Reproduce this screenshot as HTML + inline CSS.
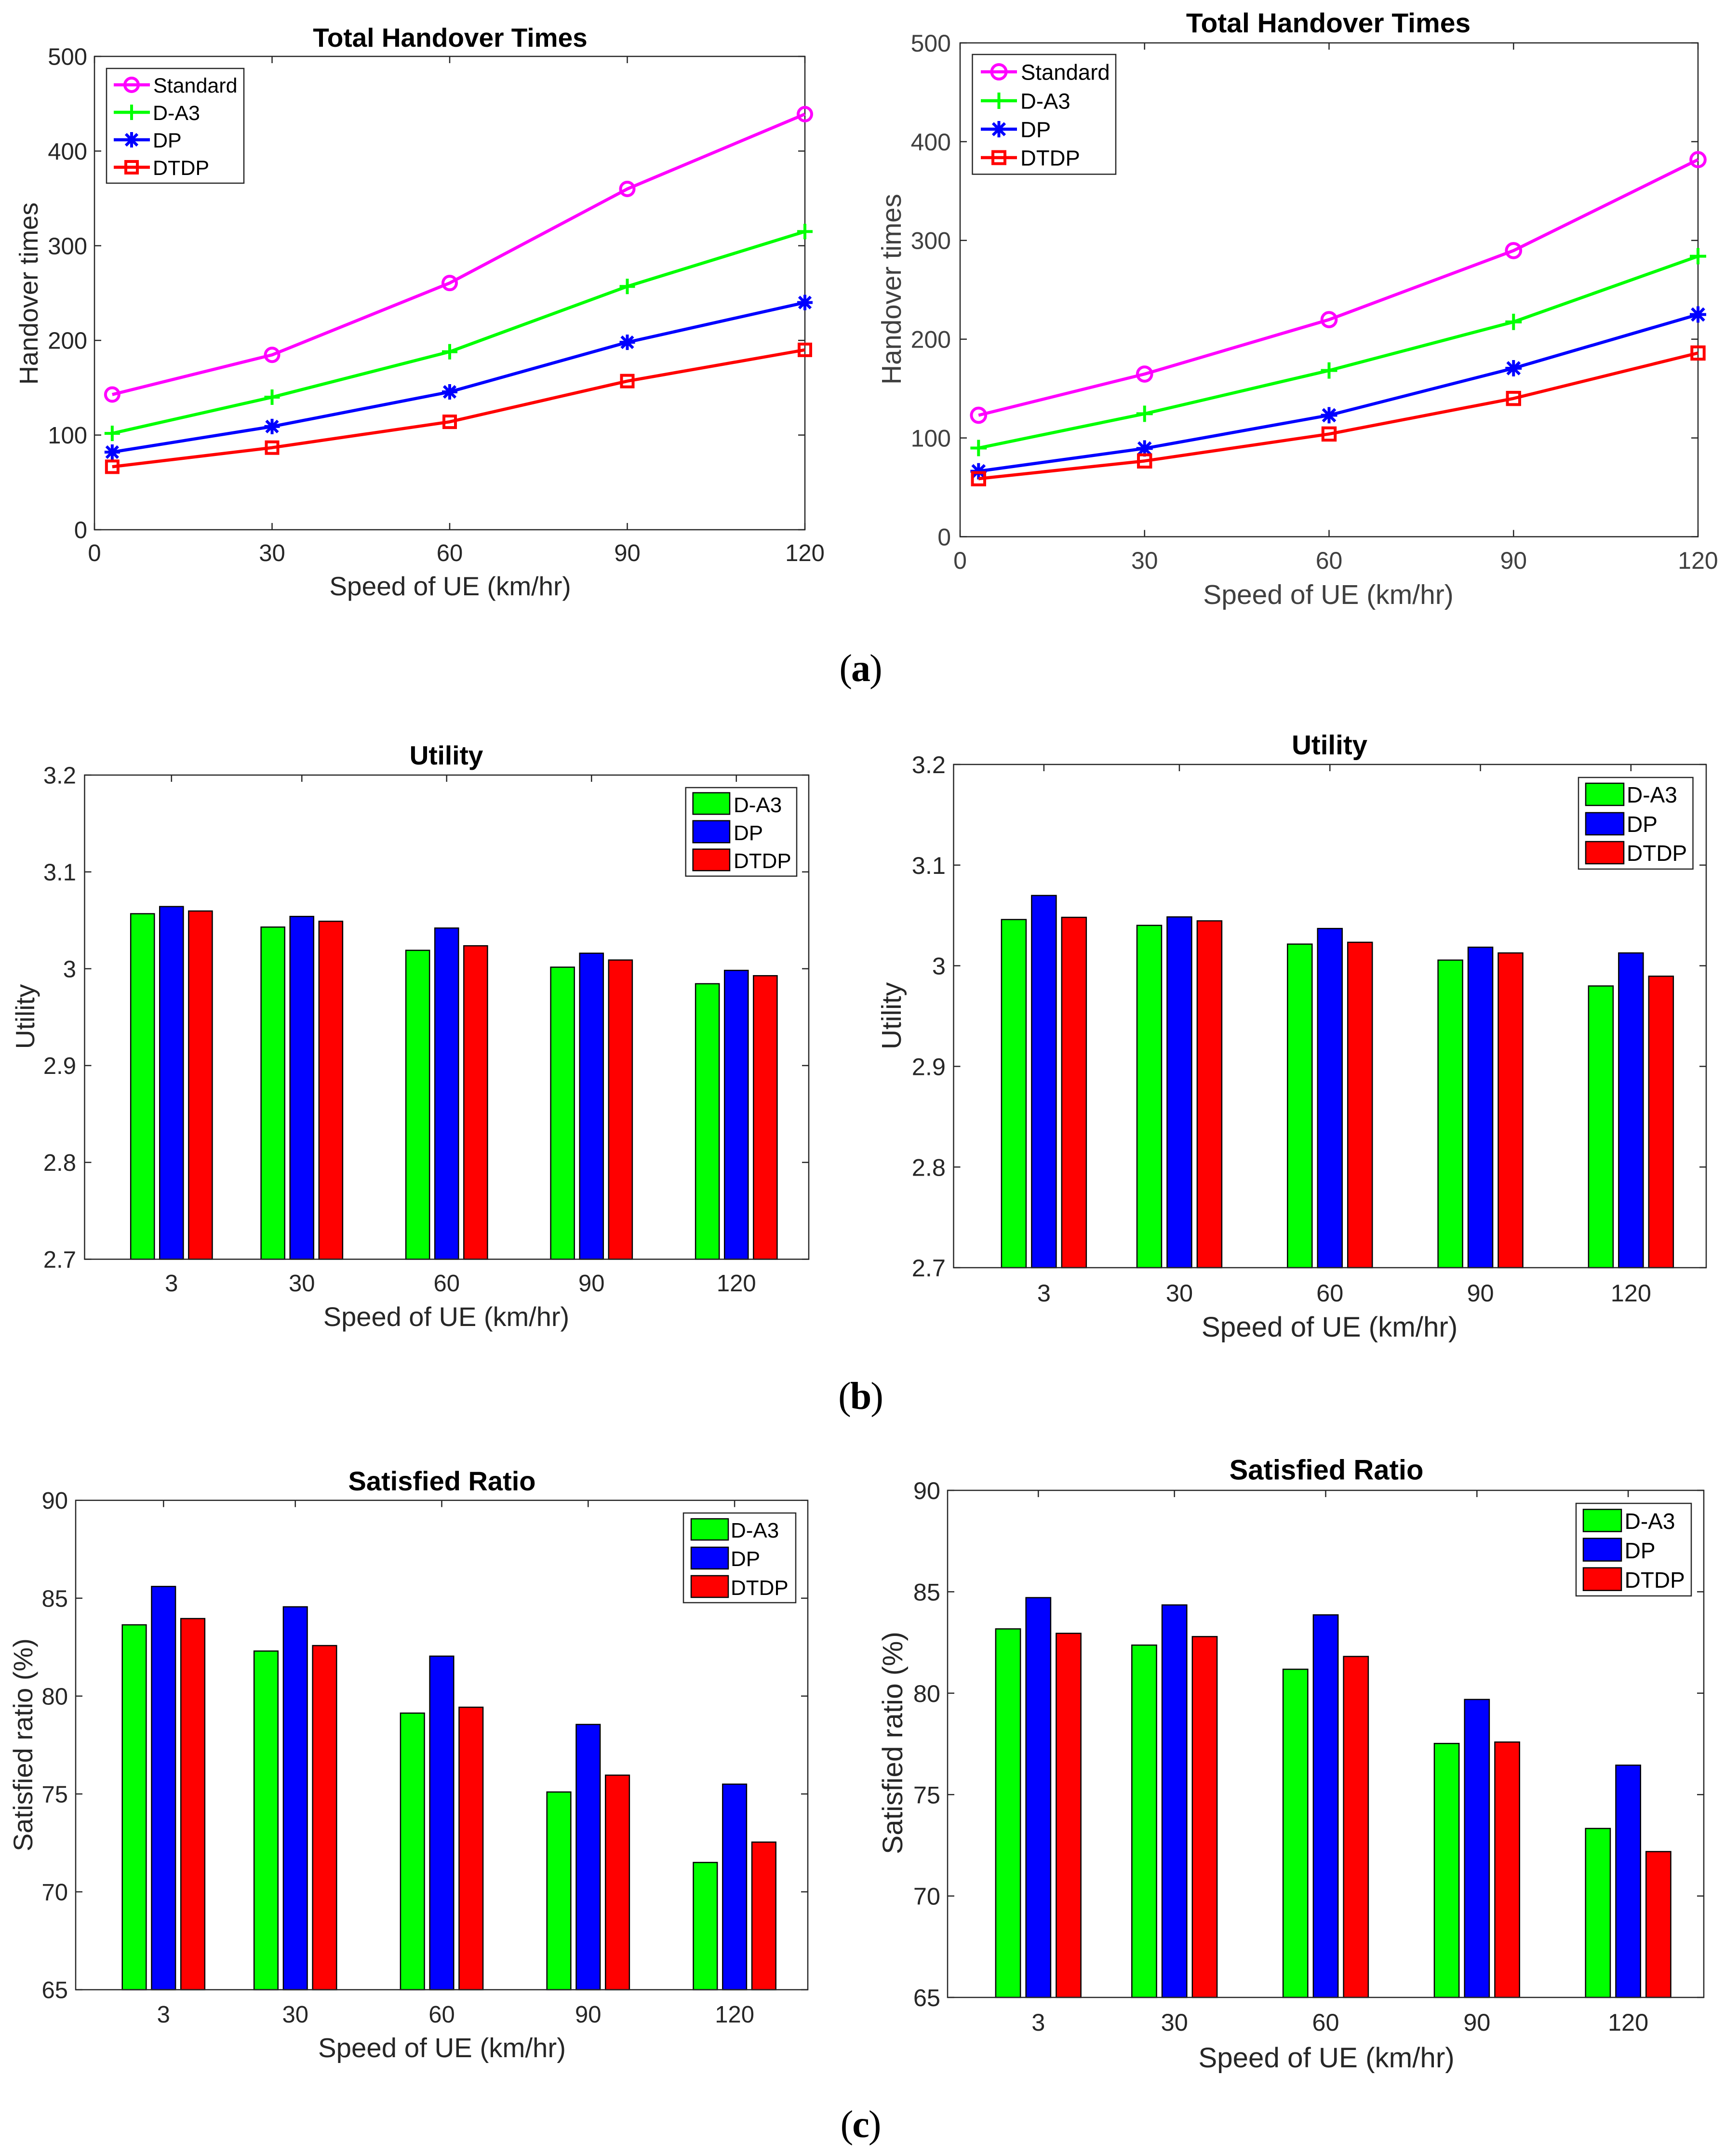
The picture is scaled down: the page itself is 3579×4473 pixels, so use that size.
<!DOCTYPE html>
<html lang="en">
<head>
<meta charset="utf-8">
<title>Handover, utility and satisfied ratio charts</title>
<style>
html,body{margin:0;padding:0;background:#fff;}
svg{display:block;}
text{font-family:"Liberation Sans",Arial,sans-serif;}
.title{font-weight:bold;fill:#000;text-anchor:middle;}
.lab{fill:#262626;text-anchor:middle;}
.lab2{fill:#404040;text-anchor:middle;}
.leg{fill:#000;}
.box{fill:#fff;stroke:#262626;stroke-width:2.5;}
.sw{stroke:#000;stroke-width:2.5;}
.cap{font-family:"Liberation Serif","Times New Roman",serif;font-size:80px;letter-spacing:-2px;fill:#000;text-anchor:middle;}
.mk{fill:none;}
</style>
</head>
<body>
<svg id="figure" xmlns="http://www.w3.org/2000/svg" width="3579" height="4473" viewBox="0 0 3579 4473">
<rect width="3579" height="4473" fill="#fff"/>

<!-- A1 -->
<g id="a1">
  <text class="title" x="934" y="97" font-size="55">Total Handover Times</text>
  <text class="lab" x="934" y="1235" font-size="55">Speed of UE (km/hr)</text>
  <text class="lab" transform="translate(78 609) rotate(-90)" font-size="54">Handover times</text>
  <g class="plot"></g>
  <g>
    <rect class="box" x="221" y="142" width="285" height="238"/>
    <g>
      <line x1="236" x2="311" y1="176" y2="176" stroke="#f0f" stroke-width="6.5"/><circle class="mk" cx="273" cy="176" r="14" stroke="#f0f" stroke-width="6"/>
      <text class="leg" x="318" y="192" font-size="43">Standard</text>
    </g>
    <g>
      <line x1="236" x2="311" y1="233" y2="233" stroke="#0f0" stroke-width="6.5"/><line x1="273" x2="273" y1="217" y2="249" stroke="#0f0" stroke-width="6"/>
      <text class="leg" x="317" y="249" font-size="43">D-A3</text>
    </g>
    <g>
      <line x1="236" x2="311" y1="290" y2="290" stroke="#00f" stroke-width="6.5"/><path d="M273 274V306M261 278L285 302M285 278L261 302" stroke="#00f" stroke-width="6" fill="none"/>
      <text class="leg" x="317" y="306" font-size="43">DP</text>
    </g>
    <g>
      <line x1="236" x2="311" y1="347" y2="347" stroke="#f00" stroke-width="6.5"/><rect class="mk" x="261" y="335" width="24" height="24" stroke="#f00" stroke-width="6"/>
      <text class="leg" x="317" y="363" font-size="43">DTDP</text>
    </g>
  </g>
</g>

<!-- A2 -->
<g id="a2">
  <text class="title" x="2756" y="67" font-size="57">Total Handover Times</text>
  <text class="lab2" x="2756" y="1253" font-size="57">Speed of UE (km/hr)</text>
  <text class="lab2" transform="translate(1869 600) rotate(-90)" font-size="56.5">Handover times</text>
  <g class="plot"></g>
  <g>
    <rect class="box" x="2017.5" y="113" width="297.5" height="248.5"/>
    <g>
      <line x1="2035" x2="2110" y1="149" y2="149" stroke="#f0f" stroke-width="6.5"/><circle class="mk" cx="2072.5" cy="149" r="15" stroke="#f0f" stroke-width="6"/>
      <text class="leg" x="2118" y="165.5" font-size="45.5">Standard</text>
    </g>
    <g>
      <line x1="2035" x2="2110" y1="209" y2="209" stroke="#0f0" stroke-width="6.5"/><line x1="2072.5" x2="2072.5" y1="192" y2="226" stroke="#0f0" stroke-width="6"/>
      <text class="leg" x="2117" y="225.5" font-size="45.5">D-A3</text>
    </g>
    <g>
      <line x1="2035" x2="2110" y1="268" y2="268" stroke="#00f" stroke-width="6.5"/><path d="M2072.5 251V285M2060 255.5L2085 280.5M2085 255.5L2060 280.5" stroke="#00f" stroke-width="6" fill="none"/>
      <text class="leg" x="2117" y="284.5" font-size="45.5">DP</text>
    </g>
    <g>
      <line x1="2035" x2="2110" y1="327" y2="327" stroke="#f00" stroke-width="6.5"/><rect class="mk" x="2060" y="314.5" width="25" height="25" stroke="#f00" stroke-width="6"/>
      <text class="leg" x="2117" y="343.5" font-size="45.5">DTDP</text>
    </g>
  </g>
</g>

<text class="cap" x="1785" y="1413">(<tspan font-weight="bold">a</tspan>)</text>

<!-- B1 -->
<g id="b1">
  <text class="title" x="926" y="1586" font-size="55">Utility</text>
  <text class="lab" x="926" y="2751" font-size="56">Speed of UE (km/hr)</text>
  <text class="lab" transform="translate(71 2109) rotate(-90)" font-size="55">Utility</text>
  <g class="plot"></g>
  <g>
    <rect class="box" x="1422.7" y="1634" width="230.3" height="183.7"/>
    <g>
      <rect class="sw" x="1437.7" y="1644.7" width="76.3" height="44.6" fill="#0f0"/>
      <text class="leg" x="1522" y="1685" font-size="44">D-A3</text>
    </g>
    <g>
      <rect class="sw" x="1437.7" y="1702.7" width="76.3" height="45.6" fill="#00f"/>
      <text class="leg" x="1522" y="1743" font-size="44">DP</text>
    </g>
    <g>
      <rect class="sw" x="1437.7" y="1761.7" width="76.3" height="44.6" fill="#f00"/>
      <text class="leg" x="1522" y="1801" font-size="44">DTDP</text>
    </g>
  </g>
</g>

<!-- B2 -->
<g id="b2">
  <text class="title" x="2758.6" y="1565" font-size="56.5">Utility</text>
  <text class="lab" x="2758.6" y="2773" font-size="58.3">Speed of UE (km/hr)</text>
  <text class="lab" transform="translate(1869 2107.5) rotate(-90)" font-size="57">Utility</text>
  <g class="plot"></g>
  <g>
    <rect class="box" x="3275" y="1613" width="237.5" height="190"/>
    <g>
      <rect class="sw" x="3290" y="1625" width="79" height="46" fill="#0f0"/>
      <text class="leg" x="3375" y="1665" font-size="46">D-A3</text>
    </g>
    <g>
      <rect class="sw" x="3290" y="1686" width="79" height="46" fill="#00f"/>
      <text class="leg" x="3375" y="1726" font-size="46">DP</text>
    </g>
    <g>
      <rect class="sw" x="3290" y="1746" width="79" height="46" fill="#f00"/>
      <text class="leg" x="3375" y="1786" font-size="46">DTDP</text>
    </g>
  </g>
</g>

<text class="cap" x="1785" y="2923">(<tspan font-weight="bold">b</tspan>)</text>

<!-- C1 -->
<g id="c1">
  <text class="title" x="917" y="3092" font-size="56">Satisfied Ratio</text>
  <text class="lab" x="917" y="4268" font-size="56.4">Speed of UE (km/hr)</text>
  <text class="lab" transform="translate(67 3620) rotate(-90)" font-size="56">Satisfied ratio (%)</text>
  <g class="plot"></g>
  <g>
    <rect class="box" x="1418" y="3139" width="233" height="186"/>
    <g>
      <rect class="sw" x="1434" y="3151" width="77" height="44" fill="#0f0"/>
      <text class="leg" x="1516" y="3190" font-size="44">D-A3</text>
    </g>
    <g>
      <rect class="sw" x="1434" y="3210" width="77" height="45" fill="#00f"/>
      <text class="leg" x="1516" y="3249" font-size="44">DP</text>
    </g>
    <g>
      <rect class="sw" x="1434" y="3269" width="77" height="45" fill="#f00"/>
      <text class="leg" x="1516" y="3309" font-size="44">DTDP</text>
    </g>
  </g>
</g>

<!-- C2 -->
<g id="c2">
  <text class="title" x="2752" y="3069.5" font-size="58">Satisfied Ratio</text>
  <text class="lab" x="2752" y="4289" font-size="58.3">Speed of UE (km/hr)</text>
  <text class="lab" transform="translate(1872 3616) rotate(-90)" font-size="58.5">Satisfied ratio (%)</text>
  <g class="plot"></g>
  <g>
    <rect class="box" x="3270" y="3119" width="239" height="192"/>
    <g>
      <rect class="sw" x="3285" y="3131.5" width="79" height="46" fill="#0f0"/>
      <text class="leg" x="3370.6" y="3172" font-size="46">D-A3</text>
    </g>
    <g>
      <rect class="sw" x="3285" y="3191.6" width="79" height="47" fill="#00f"/>
      <text class="leg" x="3370.6" y="3233" font-size="46">DP</text>
    </g>
    <g>
      <rect class="sw" x="3285" y="3252.7" width="79" height="47" fill="#f00"/>
      <text class="leg" x="3370.6" y="3294" font-size="46">DTDP</text>
    </g>
  </g>
</g>

<text class="cap" x="1785" y="4434">(<tspan font-weight="bold">c</tspan>)</text>
</svg>

<script>
// ---- data ----
const speeds = [3, 30, 60, 90, 120];
const lineXTickLabels = ["0", "30", "60", "90", "120"];
const barXTickLabels = ["3", "30", "60", "90", "120"];
const handoverYTickLabels = ["0", "100", "200", "300", "400", "500"];
const utilityYTickLabels = ["2.7", "2.8", "2.9", "3", "3.1", "3.2"];
const ratioYTickLabels = ["65", "70", "75", "80", "85", "90"];

const a1Standard = [142.8, 184.7, 260.6, 360, 439];
const a1DA3 = [101.8, 140, 188, 257, 315];
const a1DP = [82, 109, 145.6, 198, 240];
const a1DTDP = [66.5, 86.7, 114, 157, 190];

const a2Standard = [123, 164.7, 219.8, 289.7, 381.8];
const a2DA3 = [89.8, 124.5, 168.3, 217.5, 284];
const a2DP = [66.3, 89.4, 123, 170.6, 225];
const a2DTDP = [58.7, 76.7, 104, 140, 186];

const b1DA3 = [3.0568, 3.043, 3.019, 3.0016, 2.9845];
const b1DP = [3.0642, 3.054, 3.042, 3.016, 2.9983];
const b1DTDP = [3.0596, 3.049, 3.0237, 3.009, 2.9928];

const b2DA3 = [3.0459, 3.0401, 3.0215, 3.0056, 2.9799];
const b2DP = [3.0698, 3.0485, 3.037, 3.0184, 3.0127];
const b2DTDP = [3.0481, 3.0446, 3.0233, 3.0127, 2.9896];

const c1DA3 = [83.64, 82.3, 79.13, 75.1, 71.5];
const c1DP = [85.6, 84.56, 82.04, 78.55, 75.5];
const c1DTDP = [83.96, 82.58, 79.43, 75.96, 72.54];

const c2DA3 = [83.17, 82.37, 81.18, 77.52, 73.33];
const c2DP = [84.71, 84.35, 83.86, 79.69, 76.45];
const c2DTDP = [82.95, 82.79, 81.81, 77.59, 72.19];

// ---- rendering ----
const NS = "http://www.w3.org/2000/svg";
const AXIS = "#262626";
const TICK = 14;

function make(tag, attrs, parent) {
  const node = document.createElementNS(NS, tag);
  for (const k in attrs) node.setAttribute(k, attrs[k]);
  parent.appendChild(node);
  return node;
}

function scales(p) {
  const yMin = Number(p.yLabels[0]);
  const yMax = Number(p.yLabels[p.yLabels.length - 1]);
  return {
    x: v => p.left + (v - p.xMin) / (p.xMax - p.xMin) * (p.right - p.left),
    y: v => p.bottom - (v - yMin) / (yMax - yMin) * (p.bottom - p.top)
  };
}

function drawAxes(plot, p, s) {
  const back = make("rect", {x: p.left, y: p.top, width: p.right - p.left, height: p.bottom - p.top, fill: "#fff"}, plot);
  
  
  p.yLabels.forEach(label => {
    const yy = s.y(Number(label));
    const g = make("g", {}, plot);
    
    
    make("line", {x1: p.left, x2: p.left + TICK, y1: yy, y2: yy, stroke: AXIS, "stroke-width": 2.5}, g);
    make("line", {x1: p.right, x2: p.right - TICK, y1: yy, y2: yy, stroke: AXIS, "stroke-width": 2.5}, g);
    const t = make("text", {x: p.yLabelRight, y: yy + p.tickFont * 0.358, "font-size": p.tickFont, fill: p.tickColor, "text-anchor": "end"}, g);
    t.textContent = label;
  });
  p.xLabels.forEach((label, i) => {
    const xx = s.x(p.xTickValues[i]);
    const g = make("g", {}, plot);
    
    
    make("line", {x1: xx, x2: xx, y1: p.top, y2: p.top + TICK, stroke: AXIS, "stroke-width": 2.5}, g);
    make("line", {x1: xx, x2: xx, y1: p.bottom, y2: p.bottom - TICK, stroke: AXIS, "stroke-width": 2.5}, g);
    const t = make("text", {x: xx, y: p.xLabelBase, "font-size": p.tickFont, fill: p.tickColor, "text-anchor": "middle"}, g);
    t.textContent = label;
  });
}

function drawFrame(plot, p) {
  const f = make("rect", {x: p.left, y: p.top, width: p.right - p.left, height: p.bottom - p.top, fill: "none", stroke: AXIS, "stroke-width": 2.5}, plot);
  
  
}

function drawMarker(g, kind, cx, cy, color, k) {
  if (kind === "circle") {
    make("circle", {cx: cx, cy: cy, r: 14 * k, fill: "none", stroke: color, "stroke-width": 6}, g);
  } else if (kind === "plus") {
    const a = 16 * k;
    make("path", {d: `M${cx - a} ${cy}H${cx + a}M${cx} ${cy - a}V${cy + a}`, fill: "none", stroke: color, "stroke-width": 6}, g);
  } else if (kind === "star") {
    const a = 16 * k, b = 12 * k;
    make("path", {d: `M${cx - a} ${cy}H${cx + a}M${cx} ${cy - a}V${cy + a}M${cx - b} ${cy - b}L${cx + b} ${cy + b}M${cx + b} ${cy - b}L${cx - b} ${cy + b}`, fill: "none", stroke: color, "stroke-width": 6}, g);
  } else {
    const a = 12 * k;
    make("rect", {x: cx - a, y: cy - a, width: 2 * a, height: 2 * a, fill: "none", stroke: color, "stroke-width": 6}, g);
  }
}

function drawLinePanel(p) {
  const plot = document.querySelector("#" + p.id + " .plot");
  const s = scales(p);
  drawAxes(plot, p, s);
  drawFrame(plot, p);
  p.series.forEach(sr => {
    const g = make("g", {}, plot);
    
    
    const pts = sr.values.map((v, i) => s.x(speeds[i]) + "," + s.y(v)).join(" ");
    make("polyline", {points: pts, fill: "none", stroke: sr.color, "stroke-width": 6.5, "stroke-linejoin": "round"}, g);
    sr.values.forEach((v, i) => {
      const m = make("g", {}, g);
      
      
      drawMarker(m, sr.marker, s.x(speeds[i]), s.y(v), sr.color, p.markerScale);
    });
  });
}

function drawBarPanel(p) {
  const plot = document.querySelector("#" + p.id + " .plot");
  const s = scales(p);
  drawAxes(plot, p, s);
  p.series.forEach((sr, n) => {
    sr.values.forEach((v, i) => {
      const centre = speeds[i] + (n - 1) * p.barStep;
      const x0 = s.x(centre - p.barWidth / 2);
      const x1 = s.x(centre + p.barWidth / 2);
      const yy = s.y(v);
      const bar = make("rect", {x: x0, y: yy, width: x1 - x0, height: p.bottom - yy, fill: sr.color, stroke: "#000", "stroke-width": 2.5}, plot);
      
      
    });
  });
  drawFrame(plot, p);
}

const lineCommon = {xMin: 0, xMax: 120, xLabels: lineXTickLabels, xTickValues: lineXTickLabels.map(Number), yLabels: handoverYTickLabels};
const barCommon = {xMin: -15, xMax: 135, xLabels: barXTickLabels, xTickValues: speeds, barStep: 6, barWidth: 4.9};

drawLinePanel(Object.assign({}, lineCommon, {
  id: "a1", left: 196, right: 1670, top: 117, bottom: 1099, yLabelRight: 181, xLabelBase: 1164,
  tickFont: 49, tickColor: "#262626", markerScale: 1,
  series: [
    {values: a1Standard, color: "#f0f", marker: "circle"},
    {values: a1DA3, color: "#0f0", marker: "plus"},
    {values: a1DP, color: "#00f", marker: "star"},
    {values: a1DTDP, color: "#f00", marker: "square"}
  ]
}));
drawLinePanel(Object.assign({}, lineCommon, {
  id: "a2", left: 1992, right: 3523, top: 89, bottom: 1113.5, yLabelRight: 1973, xLabelBase: 1180,
  tickFont: 50, tickColor: "#404040", markerScale: 1.06,
  series: [
    {values: a2Standard, color: "#f0f", marker: "circle"},
    {values: a2DA3, color: "#0f0", marker: "plus"},
    {values: a2DP, color: "#00f", marker: "star"},
    {values: a2DTDP, color: "#f00", marker: "square"}
  ]
}));
drawBarPanel(Object.assign({}, barCommon, {
  id: "b1", left: 175.5, right: 1678, top: 1608, bottom: 2612.5, yLabelRight: 158, xLabelBase: 2679,
  tickFont: 49, tickColor: "#262626", yLabels: utilityYTickLabels,
  series: [{values: b1DA3, color: "#0f0"}, {values: b1DP, color: "#00f"}, {values: b1DTDP, color: "#f00"}]
}));
drawBarPanel(Object.assign({}, barCommon, {
  id: "b2", left: 1978.5, right: 3540, top: 1586, bottom: 2630, yLabelRight: 1962, xLabelBase: 2700,
  tickFont: 50.5, tickColor: "#262626", yLabels: utilityYTickLabels,
  series: [{values: b2DA3, color: "#0f0"}, {values: b2DP, color: "#00f"}, {values: b2DTDP, color: "#f00"}]
}));
drawBarPanel(Object.assign({}, barCommon, {
  id: "c1", left: 157, right: 1676, top: 3112.7, bottom: 4128, yLabelRight: 141, xLabelBase: 4196,
  tickFont: 49, tickColor: "#262626", yLabels: ratioYTickLabels,
  series: [{values: c1DA3, color: "#0f0"}, {values: c1DP, color: "#00f"}, {values: c1DTDP, color: "#f00"}]
}));
drawBarPanel(Object.assign({}, barCommon, {
  id: "c2", left: 1966, right: 3535, top: 3092, bottom: 4144, yLabelRight: 1951, xLabelBase: 4213,
  tickFont: 50.5, tickColor: "#262626", yLabels: ratioYTickLabels,
  series: [{values: c2DA3, color: "#0f0"}, {values: c2DP, color: "#00f"}, {values: c2DTDP, color: "#f00"}]
}));
</script>
</body>
</html>
